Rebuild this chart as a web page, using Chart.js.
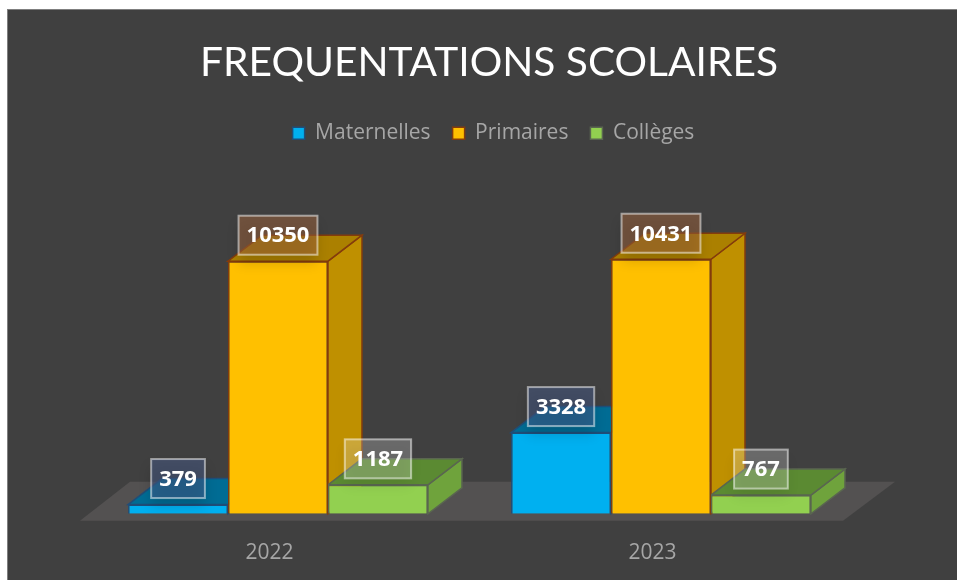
<!DOCTYPE html>
<html>
<head>
<meta charset="utf-8">
<title>Frequentations scolaires</title>
<script src="https://cdn.jsdelivr.net/npm/chart.js@4"></script>
<style>
  html, body { margin: 0; padding: 0; background: #fff; overflow: hidden; width: 957px; height: 580px; }
  #frame { position: absolute; left: 7px; top: 9px; width: 950px; height: 571px; background: #404040; border-left: 1px solid #7f7f7f; border-top: 1px solid #7f7f7f; overflow: hidden; }
  #chart { position: absolute; left: 0; top: 0; }
</style>
</head>
<body>
<div id="frame"><canvas id="chart" width="962" height="577"></canvas></div>
<script>
  const years = ["2022", "2023"];
  const maternelles = [379, 3328];
  const primaires = [10350, 10431];
  const colleges = [1187, 767];
  const seriesNames = ["Maternelles", "Primaires", "Collèges"];

  const depthX = 34, depthY = 26;
  const looks = [
    { front: "#00b0f0", line: "#1f4e79", side: "#0083b3", top: "#006c94", box: "rgba(70,90,135,.5)" },
    { front: "#ffc000", line: "#843c0c", side: "#bf9000", top: "#ab8000", box: "rgba(160,100,60,.5)" },
    { front: "#92d050", line: "#5a6650", side: "#6fa33c", top: "#5b8a32", box: "rgba(255,255,255,.22)" },
  ];

  function poly(ctx, pts, fill, line) {
    ctx.beginPath();
    pts.forEach((p, i) => (i ? ctx.lineTo(p[0], p[1]) : ctx.moveTo(p[0], p[1])));
    ctx.closePath();
    ctx.fillStyle = fill;
    ctx.fill();
    if (line) {
      ctx.strokeStyle = line;
      ctx.lineWidth = 1.5;
      ctx.stroke();
    }
  }

  // floor and the top/side faces go under the bars, value boxes go over them
  const bars3d = {
    id: "bars3d",
    afterLayout(chart) {
      // title and legend sit right of the plot centre in the original
      chart.titleBlock.left += 19.5;
      chart.titleBlock.right += 19.5;
      chart.legend.left += 24;
      chart.legend.right += 24;
    },
    beforeDatasetsDraw(chart) {
      const { ctx, chartArea: a } = chart;
      const fy = a.bottom + 7;
      poly(ctx, [[a.left - 6.5, fy], [a.left + 43.5, fy - 39], [a.right + 42.5, fy - 39], [a.right - 9.5, fy]], "#535151");
      chart.data.datasets.forEach((ds, i) => {
        chart.getDatasetMeta(i).data.forEach((b) => {
          const l = b.x - b.width / 2, r = b.x + b.width / 2;
          const k = looks[i];
          poly(ctx, [[r, b.y], [r + depthX, b.y - depthY], [r + depthX, b.base - depthY], [r, b.base]], k.side, k.line);
          poly(ctx, [[l, b.y], [l + depthX, b.y - depthY], [r + depthX, b.y - depthY], [r, b.y]], k.top, k.line);
        });
      });
    },
    afterDatasetsDraw(chart) {
      const { ctx } = chart;
      ctx.save();
      ctx.font = "bold 22px 'Open Sans'";
      ctx.textAlign = "center";
      ctx.textBaseline = "middle";
      chart.data.datasets.forEach((ds, i) => {
        chart.getDatasetMeta(i).data.forEach((b, j) => {
          const txt = String(ds.data[j]);
          const w = ctx.measureText(txt).width + 16;
          const cy = b.y - 26;
          ctx.save();
          ctx.shadowColor = "rgba(0,0,0,.3)";
          ctx.shadowBlur = 12;
          ctx.shadowOffsetY = 8;
          ctx.fillStyle = looks[i].box;
          ctx.fillRect(b.x - w / 2, cy - 19.5, w, 39);
          ctx.restore();
          ctx.strokeStyle = "rgba(255,255,255,.5)";
          ctx.lineWidth = 2;
          ctx.strokeRect(b.x - w / 2, cy - 19.5, w, 39);
          ctx.fillStyle = "#fff";
          ctx.fillText(txt, b.x, cy + 1);
        });
      });
      ctx.restore();
    },
  };

  new Chart(document.getElementById("chart"), {
    type: "bar",
    plugins: [bars3d],
    data: {
      labels: years,
      datasets: [maternelles, primaires, colleges].map((values, i) => ({
        label: seriesNames[i],
        data: values,
        backgroundColor: looks[i].front,
        borderColor: looks[i].line,
        borderWidth: 1.5,
        categoryPercentage: 0.783,
        barPercentage: 1,
      })),
    },
    options: {
      responsive: false,
      animation: false,
      layout: { padding: { left: 78.5, right: 117.5, top: 28, bottom: 2 } },
      plugins: {
        title: {
          display: true,
          text: "FREQUENTATIONS SCOLAIRES",
          color: "#ffffff",
          font: { family: "Lato", size: 40.7, weight: "normal" },
          padding: { top: 0, bottom: 14 },
        },
        legend: {
          position: "top",
          labels: {
            color: "#a6a6a6",
            font: { family: "Open Sans", size: 21 },
            usePointStyle: true,
            pointStyle: "rect",
            boxWidth: 12,
            boxHeight: 12,
            padding: 22,
          },
        },
        tooltip: { enabled: false },
      },
      scales: {
        x: {
          grid: { display: false },
          border: { display: false },
          ticks: { color: "#a6a6a6", font: { family: "Open Sans", size: 21 }, padding: 19, labelOffset: -8.5 },
        },
        y: { display: false, min: 0, max: 14750 },
      },
    },
  });
</script>
</body>
</html>
